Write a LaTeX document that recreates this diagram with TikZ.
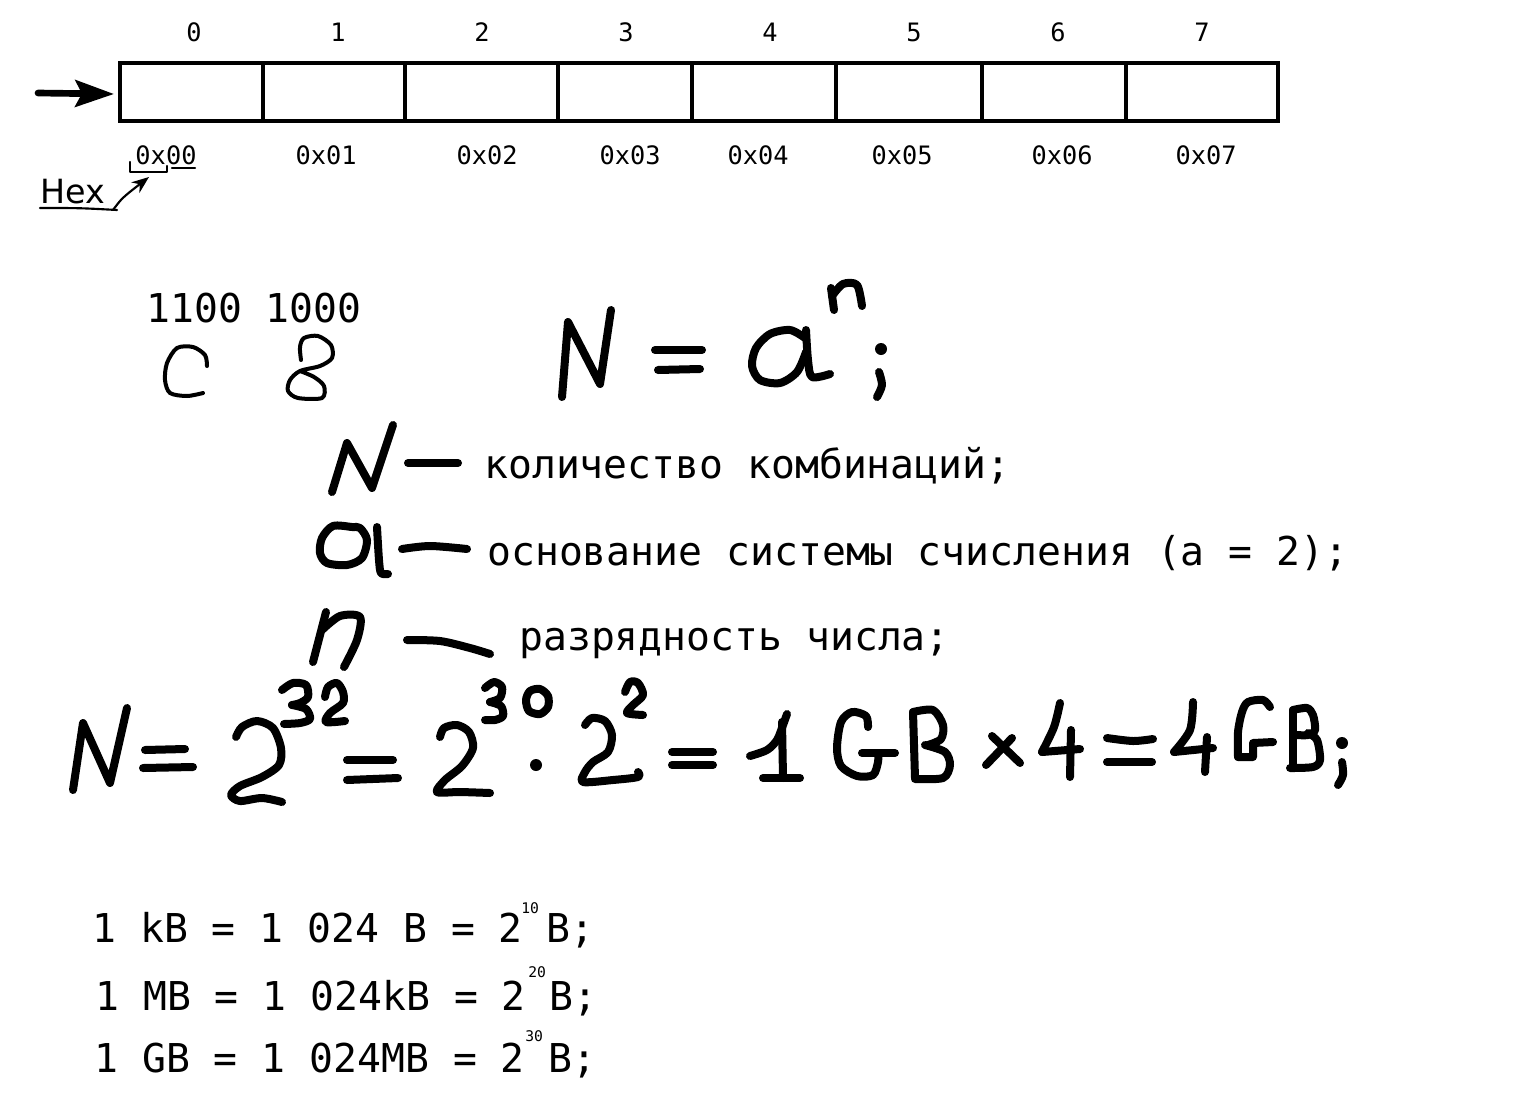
\documentclass[tikz,border=0pt]{standalone}
\usepackage{fontspec}
\setmonofont{DejaVu Sans Mono}
\setsansfont{DejaVu Sans}
\usetikzlibrary{arrows.meta}
\begin{document}
\begin{tikzpicture}[x=0.75pt,y=-0.75pt,
  big/.style={font=\fontsize{29.8}{34}\selectfont\ttfamily, inner sep=0pt, anchor=base west},
  idx/.style={font=\fontsize{19}{22}\selectfont\ttfamily, inner sep=0pt, anchor=base},
  supx/.style={font=\fontsize{11}{13}\selectfont\ttfamily, inner sep=0pt, anchor=base west},
  hexlabel/.style={font=\fontsize{25}{30}\selectfont\sffamily, inner sep=0pt, anchor=base west},
  boxline/.style={line width=3pt, line join=miter},
  hw/.style={line width=6pt, line cap=round, line join=round},
  hwthin/.style={line width=3pt, line cap=round, line join=round},
  pen/.style={line width=1.6pt, line cap=round, line join=round}]
\fill[white] (0,0) rectangle (1540,1110);
\useasboundingbox (0,0) rectangle (1540,1110);

% ---------- memory row ----------
\draw[boxline] (120,63) rectangle (1278,121);
\foreach \x in {263,405,558,692,836,982,1126} \draw[boxline] (\x,63) -- (\x,121);
\coordinate (arrtail) at (38,93);
\coordinate (memleft) at (114,94);
\draw[line width=5pt, line cap=round, -{Stealth[length=29pt,width=20pt,inset=5pt]}] (arrtail) -- (memleft);

\foreach \i/\x in {0/194,1/338,2/482,3/626,4/770,5/914,6/1058,7/1202}
  \node[idx] (i\i) at (\x,41) {\i};
\foreach \i/\x in {0/166,1/326,2/487,3/630,4/758,5/902,6/1062,7/1206}
  \node[idx] (a\i) at (\x,164) {0x0\i};

% Hex annotation
\node[hexlabel] (hex) at (40,203) {Hex};
\draw[pen] (40,208) .. controls (80,208) .. (117,210);
\draw[pen] (130,162) -- (130,172) -- (167,172) -- (167,166);
\draw[pen] (172,168) -- (195,168);
\coordinate (hexfrom) at (113,210);
\coordinate (brk) at (149,177);
\draw[pen, -{Stealth[length=13pt,width=10pt]}] (hexfrom) .. controls (122,198) .. (brk);

% ---------- 1100 1000 / C 8 ----------
\node[big] (bits) at (146,322) {1100 1000};
\draw[hwthin] plot[smooth] coordinates {(207,366) (205,355) (193,347) (177,348) (167,363) (165,380) (170,393) (187,396) (203,393)};
\draw[hwthin] plot[smooth] coordinates {(301,360) (300,347) (304,338) (318,336) (331,345) (332,358) (320,366) (300,371) (290,380) (288,391) (298,398) (322,398) (324,386) (314,377) (300,371)};

% ---------- N = a^n ; ----------
\draw[hw] (562,397) -- (568,322) -- (600,384) -- (611,310);
\draw[hw] (655,350) -- (702,350);
\draw[hw] (658,370) -- (700,369);
\draw[hw] plot[smooth] coordinates {(805,338) (790,330) (770,334) (756,348) (752,366) (760,380) (780,383) (797,372) (806,352)};
\draw[hw] plot[smooth] coordinates {(806,330) (808,360) (812,377) (830,374)};
\draw[hw] (834,310) -- (831,288);
\draw[hw] plot[smooth] coordinates {(832,296) (843,284) (857,285) (862,306)};
\fill (881,349) circle[radius=4.5pt];
\draw[hw] plot[smooth] coordinates {(879,372) (882,385) (877,397)};

% ---------- legend ----------
\draw[hw] (332,492) -- (347,443) -- (372,488) -- (393,425);
\draw[hw] (408,463) -- (458,463);
\node[big] (l1) at (484,478) {количество комбинаций;};

\draw[hw] plot[smooth cycle] coordinates {(352,527) (333,526) (322,538) (320,553) (327,563) (347,565) (362,558) (367,540) (360,528)};
\draw[hw] plot[smooth] coordinates {(377,527) (379,560) (381,573) (388,574)};
\draw[hw] plot[smooth] coordinates {(402,549) (430,546) (467,549)};
\node[big] (l2) at (487,565) {основание системы счисления (a = 2);};

\draw[hw] (313,662) -- (326,612);
\draw[hw] plot[smooth] coordinates {(322,630) (340,616) (360,617) (357,640) (344,667)};
\draw[hw] plot[smooth] coordinates {(407,640) (440,641) (470,648) (490,654)};
\node[big] (l3) at (519,650) {разрядность числа;};

% ---------- N = 2^32 = 2^30 * 2^2 = 1GB x 4 = 4GB; ----------
\draw[hw] (73,790) -- (83,723) -- (110,783) -- (127,708);
\draw[hw] (145,750) -- (185,749);
\draw[hw] (143,768) -- (193,767);
\draw[hw] plot[smooth] coordinates {(236,737) (242,727) (257,721) (273,728) (281,748) (279,765) (262,777) (240,786) (231,795) (240,801) (262,798) (282,802)};
\draw[hw] plot[smooth] coordinates {(282,690) (293,683) (306,685) (308,697) (300,703) (292,705)};
\draw[hw] plot[smooth] coordinates {(292,705) (306,709) (310,719) (300,723) (284,724)};
\draw[hw] plot[smooth] coordinates {(325,697) (328,687) (337,683) (343,692) (343,703) (330,713) (326,722) (345,721)};
\draw[hw] (347,760) -- (393,760);
\draw[hw] (347,780) -- (398,778);
\draw[hw] plot[smooth] coordinates {(440,737) (444,728) (457,725) (469,732) (473,748) (462,766) (445,780) (437,792) (460,792) (490,793)};
\draw[hw] plot[smooth] coordinates {(485,688) (494,682) (502,687) (500,698) (490,702)};
\draw[hw] plot[smooth] coordinates {(490,702) (501,706) (503,716) (495,720) (485,720)};
\draw[hw] plot[smooth cycle] coordinates {(530,691) (526,700) (529,711) (540,714) (548,707) (548,696) (540,689)};
\fill (536,765) circle[radius=4.5pt];
\draw[hw] plot[smooth] coordinates {(585,725) (592,718) (605,721) (612,735) (608,752) (593,762) (585,772) (583,782) (613,780) (638,777) (638,772)};
\draw[hw] plot[smooth] coordinates {(625,692) (630,682) (638,683) (643,695) (633,705) (627,713) (643,715)};
\draw[hw] (672,752) -- (713,752);
\draw[hw] (672,765) -- (713,765);
\draw[hw] plot[smooth] coordinates {(750,756) (767,750) (777,740) (783,725) (787,714)};
\draw[hw] (782,722) -- (783,778);
\draw[hw] (763,778) -- (800,778);
\draw[hw] plot[smooth] coordinates {(868,727) (866,716) (852,712) (841,722) (837,748) (841,766) (857,776) (873,775) (878,762) (878,753)};
\draw[hw] (862,753) -- (895,753);
\draw[hw] (913,712) -- (915,778);
\draw[hw] plot[smooth] coordinates {(913,712) (933,710) (943,725) (941,739) (928,745)};
\draw[hw] plot[smooth] coordinates {(925,745) (945,752) (950,765) (943,778) (915,779)};
\draw[hw] (986,765) -- (1012,738);
\draw[hw] (992,736) -- (1020,763);
\draw[hw] plot[smooth] coordinates {(1060,703) (1054,727) (1042,752)};
\draw[hw] (1042,752) -- (1080,749);
\draw[hw] (1071,730) -- (1070,777);
\draw[hw] plot[smooth] coordinates {(1107,738) (1133,741) (1153,739)};
\draw[hw] (1107,762) -- (1152,762);
\draw[hw] plot[smooth] coordinates {(1193,702) (1190,730) (1174,752)};
\draw[hw] (1174,752) -- (1213,748);
\draw[hw] (1207,737) -- (1205,772);
\draw[hw] plot[smooth] coordinates {(1270,707) (1263,700) (1248,702) (1242,712) (1238,732) (1238,757)};
\draw[hw] (1238,757) -- (1253,757) -- (1253,743) -- (1273,742);
\draw[hw] (1293,710) -- (1293,765);
\draw[hw] plot[smooth] coordinates {(1293,710) (1307,708) (1313,715) (1315,730) (1308,735) (1297,735)};
\draw[hw] plot[smooth] coordinates {(1308,733) (1317,740) (1320,760) (1313,767) (1290,768)};
\fill (1342,743) circle[radius=4.5pt];
\draw[hw] plot[smooth] coordinates {(1342,762) (1343,775) (1338,785)};

% ---------- units ----------
\node[big] (kb) at (92,942) {1 kB = 1 024 B = 2 B;};
\node[supx] (kbs) at (521,913) {10};
\node[big] (mb) at (95,1010) {1 MB = 1 024kB = 2 B;};
\node[supx] (mbs) at (528,977) {20};
\node[big] (gb) at (94,1072) {1 GB = 1 024MB = 2 B;};
\node[supx] (gbs) at (525,1041) {30};
\end{tikzpicture}
\end{document}
